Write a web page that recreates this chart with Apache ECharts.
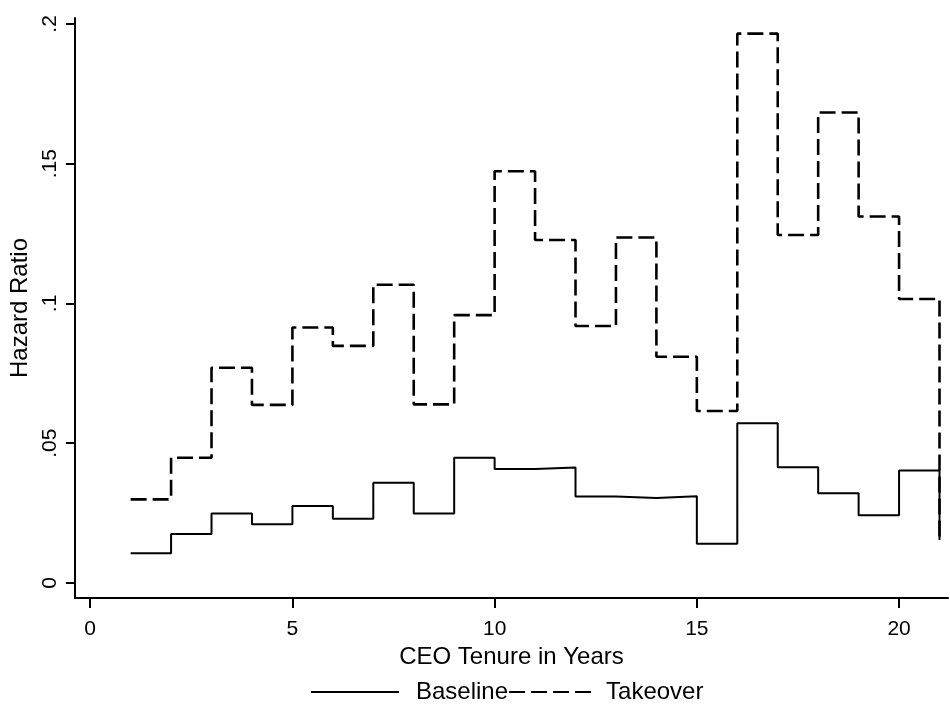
<!DOCTYPE html>
<html>
<head>
<meta charset="utf-8">
<title>Hazard Ratio by CEO Tenure</title>
<script src="https://cdn.jsdelivr.net/npm/echarts@6.0.0/dist/echarts.min.js"></script>
<style>
  html, body { margin: 0; padding: 0; background: #fff; }
  #chart { width: 950px; height: 720px; }
</style>
</head>
<body>
<div id="chart"></div>
<script>
// tenure years (step starts), last point closes the final step
const years = [1, 2, 3, 4, 5, 6, 7, 8, 9, 10, 11, 12, 13, 14, 15, 16, 17, 18, 19, 20, 21];
const baseline = [0.0106, 0.0175, 0.0249, 0.0210, 0.0275, 0.0230, 0.0359, 0.0249, 0.0448, 0.0408,
  0.0413, 0.0309, 0.0304, 0.0310, 0.0140, 0.0571, 0.0414, 0.0321, 0.0242, 0.0402, 0.0154];
const takeover = [0.0299, 0.0448, 0.0770, 0.0637, 0.0914, 0.0848, 0.1067, 0.0639, 0.0958, 0.1473,
  0.1227, 0.0919, 0.1236, 0.0809, 0.0615, 0.1965, 0.1245, 0.1683, 0.1311, 0.1016, 0.0154];
const xTicks = [0, 5, 10, 15, 20];
const yTicks = [0, 0.05, 0.1, 0.15, 0.2];

const font = "'Liberation Sans', Arial, Helvetica, sans-serif";
const chart = echarts.init(document.getElementById('chart'));

const pairs = (ys) => years.map((x, i) => [x, ys[i]]);

chart.setOption({
  animation: false,
  backgroundColor: '#fff',
  textStyle: { fontFamily: font, color: '#000' },
  grid: { left: 74, right: 2, top: 18, bottom: 122, containLabel: false },
  xAxis: {
    type: 'value',
    min: -0.378,
    max: 21.21,
    name: 'CEO Tenure in Years',
    nameLocation: 'middle',
    nameGap: 45,
    nameTextStyle: { fontSize: 24, color: '#000', fontFamily: font },
    axisLine: { show: true, onZero: false, lineStyle: { color: '#000', width: 2 } },
    axisTick: { show: true, length: 10, customValues: xTicks, lineStyle: { color: '#000', width: 2 } },
    axisLabel: { customValues: xTicks, fontSize: 21, color: '#000', margin: 21, fontFamily: font },
    splitLine: { show: false }
  },
  yAxis: {
    type: 'value',
    min: -0.00537,
    max: 0.2021,
    name: 'Hazard Ratio',
    nameLocation: 'middle',
    nameGap: 35,
    nameTextStyle: { fontSize: 24, color: '#000', fontFamily: font },
    axisLine: { show: true, onZero: false, lineStyle: { color: '#000', width: 2 } },
    axisTick: { show: true, length: 9, customValues: yTicks, lineStyle: { color: '#000', width: 2 } },
    axisLabel: {
      customValues: yTicks,
      rotate: 90,
      fontSize: 21,
      color: '#000',
      margin: 14,
      fontFamily: font,
      formatter: (v) => String(v).replace(/^0\./, '.')
    },
    splitLine: { show: false }
  },
  legend: {
    left: 310,
    top: 680,
    padding: 0,
    itemWidth: 88,
    itemHeight: 14,
    itemGap: 0,
    itemStyle: { opacity: 0 },
    textStyle: { fontSize: 24, color: '#000', fontFamily: font },
    data: [
      { name: 'Baseline', textStyle: { padding: [0, 0, 0, 12] } },
      { name: 'Takeover', textStyle: { padding: [0, 0, 0, 4] } }
    ]
  },
  series: [
    {
      name: 'Baseline',
      type: 'line',
      step: 'end',
      symbol: 'none',
      data: pairs(baseline),
      lineStyle: { color: '#000', width: 2, type: 'solid' },
      itemStyle: { color: '#000' }
    },
    {
      name: 'Takeover',
      type: 'line',
      step: 'end',
      symbol: 'none',
      data: pairs(takeover),
      lineStyle: { color: '#000', width: 2.6, type: [16, 6] },
      itemStyle: { color: '#000' }
    }
  ]
});
</script>
</body>
</html>
